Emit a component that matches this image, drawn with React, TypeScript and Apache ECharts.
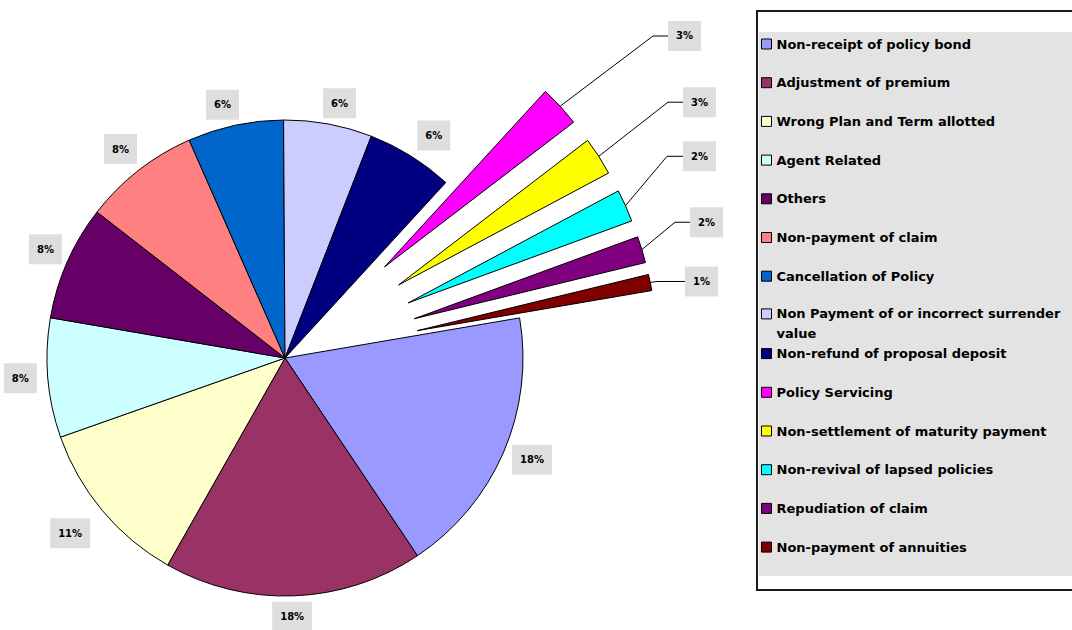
import React, { useEffect, useRef } from 'react';
import * as echarts from 'echarts';

const categories = [
  'Non-receipt of policy bond',
  'Adjustment of premium',
  'Wrong Plan and Term allotted',
  'Agent Related',
  'Others',
  'Non-payment of claim',
  'Cancellation of Policy',
  'Non Payment of or incorrect surrender value',
  'Non-refund of proposal deposit',
  'Policy Servicing',
  'Non-settlement of maturity payment',
  'Non-revival of lapsed policies',
  'Repudiation of claim',
  'Non-payment of annuities',
];
const shares = [18.3, 17.6, 11.4, 8.1, 7.8, 7.9, 6.5, 6.0, 5.9, 2.8, 2.6, 2.2, 1.8, 1.1];
const colors = [
  '#9999FF', '#993366', '#FFFFCC', '#CCFFFF', '#660066', '#FF8080', '#0066CC',
  '#CCCCFF', '#000080', '#FF00FF', '#FFFF00', '#00FFFF', '#800080', '#800000',
];
const exploded = [false, false, false, false, false, false, false, false, false, true, true, true, true, true];

// label placement (layout only): first segment, second segment
const lineLen = [20, 21, 35, 2, 32, 27, 21, 21, 24, 104, 100, 121, 94, 5];
const lineLen2 = [-10, -22.5, -14.4, 9, -24, -15, -8, -9, -6, 15, 15, 16, 15, 28];
const calloutX = [668, 683, 683, 690, 685];

const FONT = '"DejaVu Sans", sans-serif';
const CENTER = [285, 358];
const RADIUS = 238;
const START = 9.7;
const EXPLODE = 135;

const HIDDEN = { color: 'rgba(0,0,0,0)', borderWidth: 0 };

export default function App() {
  const ref = useRef<HTMLDivElement>(null);
  useEffect(() => {
    document.body.style.margin = '0';
    const chart = echarts.init(ref.current!, null, { renderer: 'svg' });

    const labelBase = {
      show: true,
      position: 'outside',
      distanceToLabelLine: 0,
      formatter: (p: any) => `${p.percent}%`,
      fontFamily: FONT,
      fontSize: 10,
      fontWeight: 'bold',
      color: '#000',
      backgroundColor: '#dedede',
      padding: [9, 8],
      lineHeight: 12,
    };
    const pieBase = {
      type: 'pie',
      radius: RADIUS,
      startAngle: START,
      clockwise: true,
      avoidLabelOverlap: false,
      percentPrecision: 0,
      selectedMode: false,
      emphasis: { disabled: true },
      tooltip: { show: false },
      itemStyle: { borderColor: '#000', borderWidth: 1 },
      label: labelBase,
      labelLine: { lineStyle: { color: '#000', width: 1 }, minTurnAngle: 30 },
    };

    // main pie: the slices that stay in place
    const mainData = categories.map((name, i) => ({
      name,
      value: shares[i],
      itemStyle: exploded[i] ? HIDDEN : { color: colors[i] },
      label: { show: !exploded[i] },
      labelLine: { show: false, length: lineLen[i], length2: lineLen2[i] },
    }));

    // each pulled-out slice: same pie, shifted along its mid angle
    const total = shares.reduce((a, b) => a + b, 0);
    const series: any[] = [{ ...pieBase, center: CENTER, data: mainData }];
    let cum = 0;
    shares.forEach((v, i) => {
      const midDeg = -START + ((cum + v / 2) / total) * 360;
      cum += v;
      if (!exploded[i]) return;
      const a = (midDeg * Math.PI) / 180;
      const k = i - 9;
      series.push({
        ...pieBase,
        silent: true,
        center: [CENTER[0] + EXPLODE * Math.cos(a), CENTER[1] + EXPLODE * Math.sin(a)],
        labelLayout: (p: any) => (p.dataIndex === i ? { x: calloutX[k] } : {}),
        data: categories.map((name, j) => ({
          name,
          value: shares[j],
          itemStyle: j === i ? { color: colors[j] } : HIDDEN,
          label: { show: j === i },
          labelLine: { show: j === i, length: lineLen[j], length2: lineLen2[j] },
        })),
      });
    });

    const legendStep = 38.7;
    const legendFirst = 44;
    const legends = categories.map((name, i) => {
      const twoLine = name.endsWith(' value');
      return {
        orient: 'vertical',
        left: 761,
        top: legendFirst + i * legendStep - (twoLine ? 31 : 7),
        padding: 0,
        itemGap: 0,
        itemWidth: 10,
        itemHeight: 10,
        icon: 'rect',
        selectedMode: false,
        formatter: (n: string) => (n.endsWith(' value') ? '\n' + n.replace(/ value$/, '\nvalue') : n),
        textStyle: {
          fontFamily: FONT,
          fontSize: 13,
          fontWeight: 'bold',
          color: '#000',
          lineHeight: twoLine ? 20 : 14,
        },
        data: [{ name, itemStyle: { color: colors[i], borderColor: '#000', borderWidth: 1 } }],
      };
    });

    chart.setOption({
      animation: false,
      backgroundColor: '#ffffff',
      graphic: [
        { type: 'rect', z: -10, shape: { x: 757, y: 11, width: 330, height: 579 }, style: { fill: '#ffffff', stroke: '#1a1a1a', lineWidth: 2 } },
        { type: 'rect', z: -9, shape: { x: 759, y: 32, width: 320, height: 544 }, style: { fill: '#e3e3e3' } },
      ],
      legend: legends,
      series,
    });
    return () => chart.dispose();
  }, []);
  return <div ref={ref} style={{ position: 'fixed', left: 0, top: 0, width: 1072, height: 630 }} />;
}
